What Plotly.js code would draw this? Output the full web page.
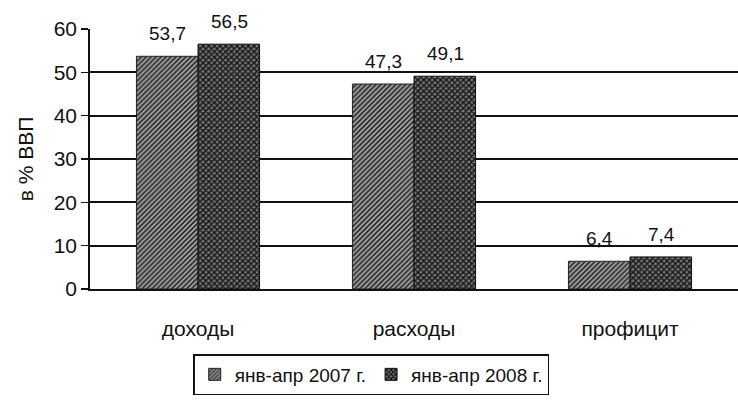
<!DOCTYPE html>
<html><head><meta charset="utf-8">
<script src="https://cdn.plot.ly/plotly-3.0.1.min.js"></script>
<style>body{margin:0;background:#fff}#c{width:738px;height:403px}</style>
</head><body><div id="c"></div>
<script>
var categories = ["доходы", "расходы", "профицит"];
var series2007 = [53.7, 47.3, 6.4];
var series2008 = [56.5, 49.1, 7.4];
var seriesNames = ["янв-апр 2007 г.", "янв-апр 2008 г."];
var yTicks = [0, 10, 20, 30, 40, 50, 60];

var font = "Liberation Sans, Arial, sans-serif";
var traces = [
  {type: "bar", x: categories, y: series2007, name: seriesNames[0],
   marker: {color: "#a0a0a0", line: {color: "#222", width: 1},
            pattern: {shape: "/", fgcolor: "#262626", bgcolor: "#acacac", size: 3.5, solidity: 0.5}}},
  {type: "bar", x: categories, y: series2008, name: seriesNames[1],
   marker: {color: "#444", line: {color: "#111", width: 1},
            pattern: {shape: "x", fgcolor: "#151515", bgcolor: "#777", size: 4, solidity: 0.6}}}
];

function fmt(v) { return v.toFixed(1).replace(".", ","); }
var annotations = [];
[series2007, series2008].forEach(function (s, k) {
  s.forEach(function (v, i) {
    annotations.push({x: categories[i], y: v, xref: "x", yref: "y", text: fmt(v),
      showarrow: false, yanchor: "bottom", xshift: k === 0 ? -31 : 31, yshift: 10,
      font: {family: font, size: 19, color: "#111"}});
  });
});

var layout = {
  width: 738, height: 403,
  margin: {l: 90, r: 0, t: 29, b: 114},
  paper_bgcolor: "#fff", plot_bgcolor: "#fff",
  barmode: "group", bargap: 0.43, bargroupgap: 0,
  font: {family: font, size: 18, color: "#111"},
  showlegend: true,
  annotations: annotations,
  legend: {orientation: "h", x: 0.434, xanchor: "center", y: -0.25, yanchor: "top",
           bordercolor: "#111", borderwidth: 1.5, font: {family: font, size: 19, color: "#111"},
           itemwidth: 30, tracegroupgap: 0},
  xaxis: {showgrid: false, showline: true, linecolor: "#111", linewidth: 1.8,
          ticks: "", tickfont: {family: font, size: 21, color: "#111"}, ticklabelstandoff: 20},
  yaxis: {range: [0, 60], tickvals: yTicks, showgrid: true, gridcolor: "#111", gridwidth: 1.8,
          showline: true, linecolor: "#111", linewidth: 1.8, ticks: "outside", ticklen: 7,
          tickcolor: "#111", tickwidth: 1.5, zeroline: false,
          tickfont: {family: font, size: 21, color: "#111"},
          title: {text: "в % ВВП", font: {family: font, size: 21, color: "#111"}, standoff: 14}}
};
Plotly.newPlot("c", traces, layout, {displayModeBar: false, staticPlot: true});
</script></body></html>
